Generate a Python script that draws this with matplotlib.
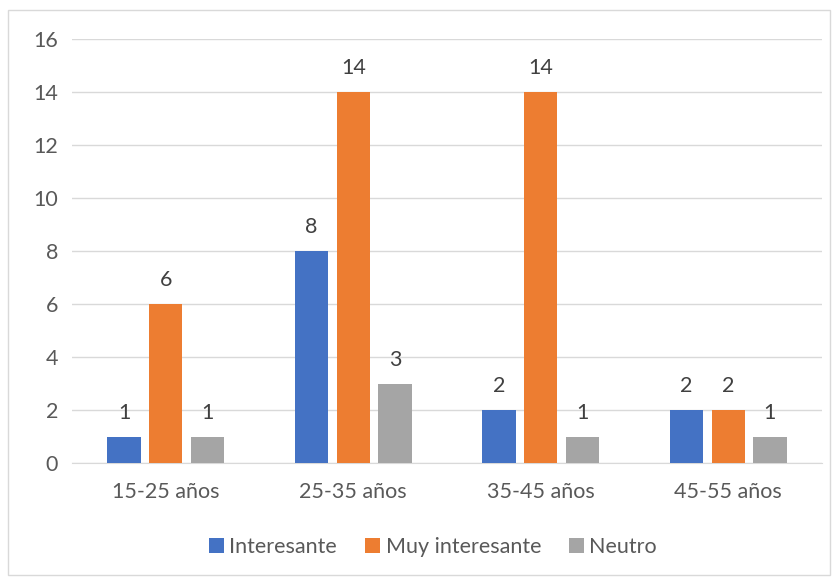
import matplotlib
matplotlib.use("Agg")
import matplotlib.pyplot as plt
from matplotlib.patches import Rectangle
import numpy as np

categories = ["15-25 años", "25-35 años", "35-45 años", "45-55 años"]
series_names = ["Interesante", "Muy interesante", "Neutro"]
interesante = [1, 8, 2, 2]
muy_interesante = [6, 14, 14, 2]
neutro = [1, 3, 1, 1]
yticks = [0, 2, 4, 6, 8, 10, 12, 14, 16]

colors = ["#4472C4", "#ED7D31", "#A5A5A5"]
text_color = "#595959"
plt.rcParams['font.family'] = ['Lato', 'DejaVu Sans']
fs = 15.5

fig = plt.figure(figsize=(8.37, 5.81), dpi=100)
fig.patches.append(Rectangle((8/837, 6/581), 822/837, 565/581, transform=fig.transFigure,
                             fill=False, edgecolor="#D9D9D9", linewidth=1))
ax = fig.add_axes([72/837, 118/581, 750/837, 424/581])

x = np.arange(len(categories))
pitch = 0.222
width = 0.178
all_series = [interesante, muy_interesante, neutro]
for i, (vals, name, c) in enumerate(zip(all_series, series_names, colors)):
    pos = x + (i - 1) * pitch
    bars = ax.bar(pos, vals, width=width, color=c, label=name, zorder=3)
    for b, v in zip(bars, vals):
        ax.annotate(str(v), (b.get_x() + b.get_width() / 2, v), xytext=(0, 10),
                    textcoords="offset points", ha="center", va="bottom",
                    fontsize=fs, color="#404040")

ax.set_xlim(-0.5, len(categories) - 0.5)
ax.set_ylim(0, 16)
ax.set_yticks(yticks)
ax.set_xticks(x)
ax.set_xticklabels(categories)
ax.tick_params(axis="both", length=0, labelsize=fs, labelcolor=text_color)
ax.tick_params(axis="x", pad=14)
ax.tick_params(axis="y", pad=10)
ax.grid(axis="y", color="#D9D9D9", linewidth=1, zorder=0)
for s in ["top", "right", "left"]:
    ax.spines[s].set_visible(False)
ax.spines["bottom"].set_color("#D9D9D9")

leg = fig.legend(loc="center", bbox_to_anchor=(433/837, 1 - 547/581), ncol=3, frameon=False,
                 fontsize=fs, handlelength=0.7, handleheight=0.7, handletextpad=0.25,
                 columnspacing=1.3)
for t in leg.get_texts():
    t.set_color(text_color)

fig.savefig("out.png", dpi=100)
